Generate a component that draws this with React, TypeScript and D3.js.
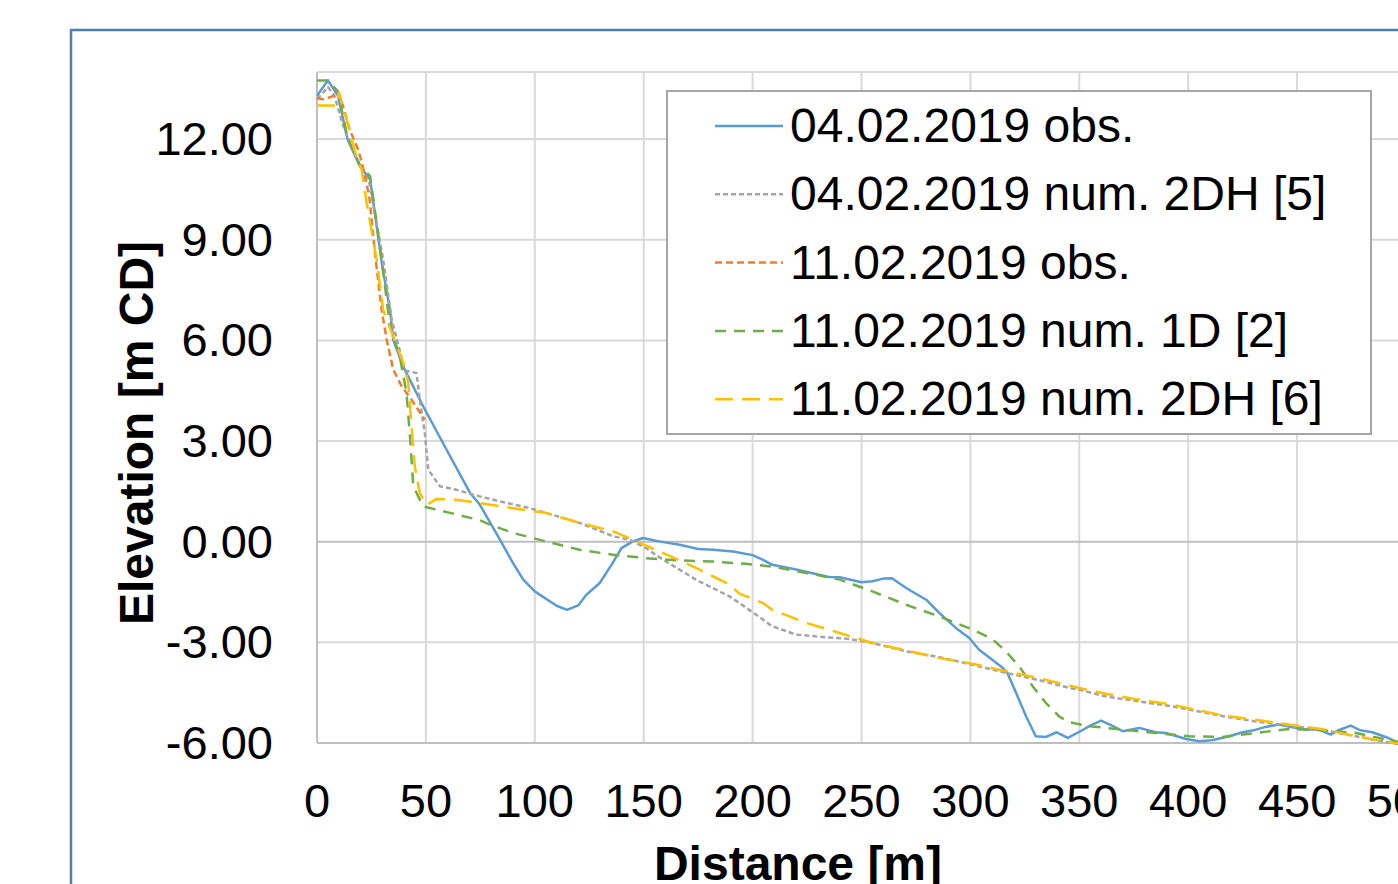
import React from 'react'
import * as d3 from 'd3'

// distance [m], elevation [m CD]
const obs0402: [number, number][] = [
  [0, 13.29], [5, 13.75], [9.6, 13.3], [14, 12.0], [19.6, 11.2], [24.4, 10.8], [30, 8.2],
  [33.5, 6.91], [35, 6.02], [39.6, 5.22], [48.8, 4.03], [59.5, 2.74], [70.2, 1.46],
  [74.8, 1.1], [84, 0.06], [90, -0.64], [94.7, -1.13], [100, -1.48], [110, -1.91],
  [114.8, -2.03], [119.9, -1.9], [123.7, -1.58], [129.8, -1.23], [135.2, -0.69],
  [139.8, -0.19], [145, 0.01], [149.7, 0.11], [157, 0.01], [166.5, -0.09], [175, -0.22],
  [181.8, -0.24], [191, -0.29], [200, -0.4], [204.8, -0.54], [209, -0.69], [220, -0.83],
  [235, -1.05], [240, -1.06], [250, -1.21], [255, -1.18], [260, -1.1], [264, -1.09],
  [270.5, -1.38], [279.7, -1.73], [285.8, -2.13], [294.2, -2.62], [299.5, -2.87],
  [304, -3.22], [314.8, -3.76], [317, -3.91], [321, -4.51], [325.6, -5.21], [330, -5.8],
  [334.7, -5.82], [339.6, -5.68], [344.7, -5.85], [350.5, -5.65], [355, -5.48],
  [360, -5.33], [365.5, -5.5], [370, -5.65], [377.5, -5.55], [385, -5.68], [389.8, -5.7],
  [399, -5.88], [405, -5.95], [411, -5.92], [418.8, -5.8], [425, -5.68], [429.5, -5.63],
  [435.6, -5.52], [441.7, -5.45], [447.8, -5.53], [454, -5.6], [460, -5.6], [465.4, -5.75],
  [469, -5.62], [474.6, -5.48], [479, -5.62], [484.5, -5.68], [490.7, -5.82],
  [495.2, -5.95], [500, -6.05],
]

const num2dh0402: [number, number][] = [
  [0, 13.2], [3, 13.4], [5, 13.55], [8, 13.3], [12, 12.4], [19, 11.3], [24, 10.7],
  [30.4, 8.4], [34.3, 6.62], [40.4, 5.1], [45.7, 5.03], [47.2, 4.23], [49.5, 3.24],
  [51.1, 2.15], [56.4, 1.65], [64, 1.55], [71.7, 1.4], [84, 1.2], [97.7, 1.0], [105, 0.86],
  [120.6, 0.56], [136, 0.16], [143.6, 0.06], [151, -0.19], [159, -0.54], [174, -1.13],
  [189.4, -1.63], [200, -2.1], [209, -2.52], [220, -2.77], [232, -2.84], [244.5, -2.9],
  [255, -3.02], [270.5, -3.27], [285.8, -3.44], [301, -3.67], [316.4, -3.91],
  [331.7, -4.13], [345.4, -4.36], [350, -4.41], [362, -4.61], [377.5, -4.76],
  [392.8, -4.91], [405, -5.06], [417, -5.21], [431, -5.36], [446, -5.48], [461, -5.6],
  [477, -5.8], [484.6, -5.9], [495, -6.02], [500, -6.06],
]

const obs1102: [number, number][] = [
  [0, 13.22], [3, 13.19], [7, 13.27], [10, 13.39], [12, 12.97], [15, 12.28], [19, 11.68],
  [21, 11.19], [24, 10.29], [26.6, 8.6], [29.7, 6.9], [32, 6.02], [35, 5.13],
  [38.9, 4.63], [43.4, 4.23], [49.5, 3.64],
]

const num1d1102: [number, number][] = [
  [0, 13.75], [5, 13.75], [9.6, 13.42], [14, 12.04], [19.6, 11.24], [24.4, 10.89],
  [29.7, 8.4], [33.5, 6.42], [38, 5.52], [41.1, 4.43], [42.7, 3.14], [44.2, 1.65],
  [48.8, 1.05], [61, 0.86], [74.8, 0.64], [79.4, 0.51], [90, 0.26], [105, 0.01],
  [120.6, -0.24], [136, -0.39], [151, -0.49], [166.5, -0.56], [181.8, -0.59],
  [197, -0.66], [209, -0.74], [224.6, -0.93], [240, -1.13], [255, -1.48], [270.5, -1.88],
  [285.8, -2.23], [301, -2.62], [310, -2.9], [316, -3.25], [322.5, -3.72], [328.6, -4.31],
  [334.7, -4.81], [340.8, -5.21], [345.4, -5.38], [354.6, -5.5], [370, -5.6], [385, -5.7],
  [400.5, -5.8], [415.7, -5.82], [431, -5.7], [446.3, -5.58], [461.6, -5.62], [477, -5.7],
  [495, -5.95], [500, -6.0],
]

const num2dh1102: [number, number][] = [
  [0, 13.0], [9, 13.0], [10, 13.39], [13.6, 12.58], [17.4, 11.63], [20.5, 11.09],
  [22.8, 10.1], [27.4, 8.4], [30.4, 6.9], [35, 6.12], [39.6, 5.33], [41.9, 4.73],
  [43.4, 3.44], [44.9, 2.24], [47.2, 1.45], [50.3, 1.1], [54.9, 1.27], [64.1, 1.25],
  [74.8, 1.15], [90, 1.0], [105, 0.86], [120.6, 0.56], [136, 0.31], [146.6, 0.01],
  [159, -0.34], [174, -0.78], [189.4, -1.28], [194, -1.55], [204.8, -1.83], [209, -2.03],
  [224.6, -2.42], [240, -2.72], [255, -3.02], [270.5, -3.24], [285.8, -3.47],
  [301, -3.64], [316.4, -3.86], [331.7, -4.07], [350, -4.36], [362, -4.53],
  [377.5, -4.71], [392.8, -4.86], [405, -5.03], [417, -5.19], [431, -5.31], [446, -5.45],
  [461, -5.58], [477, -5.8], [495, -6.0], [500, -6.04],
]

const xTicks = [0, 50, 100, 150, 200, 250, 300, 350, 400, 450, 500]
const yTicks = [-6, -3, 0, 3, 6, 9, 12]

const series = [
  { name: '04.02.2019 obs.', data: obs0402, color: '#5b9bd5', dash: '' },
  { name: '04.02.2019 num. 2DH [5]', data: num2dh0402, color: '#a5a5a5', dash: '5,3' },
  { name: '11.02.2019 obs.', data: obs1102, color: '#ed7d31', dash: '7,4' },
  { name: '11.02.2019 num. 1D [2]', data: num1d1102, color: '#70ad47', dash: '11,8' },
  { name: '11.02.2019 num. 2DH [6]', data: num2dh1102, color: '#ffc000', dash: '18,9' },
]

const font = '"Liberation Sans", Arial, sans-serif'

export default function App() {
  const x = d3.scaleLinear().domain([0, 500]).range([317, 1406])
  const y = d3.scaleLinear().domain([-6, 14]).range([743, 72])
  const line = d3.line<[number, number]>().x(d => x(d[0])).y(d => y(d[1]))

  const lx = 667, ly = 91
  const rowY = (i: number) => 126 + i * 68.3

  return (
    <div style={{ position: 'absolute', left: 0, top: 0 }}>
      <svg width={1398} height={884} style={{ display: 'block', background: '#fff' }}>
        <rect x={71} y={30} width={1400} height={900} fill="none" stroke="#4a7ebb" strokeWidth={2.5} />

        {/* grid */}
        {xTicks.filter(t => t > 0).map(t => (
          <line key={'gx' + t} x1={x(t)} x2={x(t)} y1={y(14)} y2={y(-6)} stroke="#d9d9d9" strokeWidth={2} />
        ))}
        {yTicks.concat([14]).filter(t => t !== 0 && t !== -6).map(t => (
          <line key={'gy' + t} x1={x(0)} x2={x(500)} y1={y(t)} y2={y(t)} stroke="#d9d9d9" strokeWidth={2} />
        ))}
        <line x1={x(0)} x2={x(500)} y1={y(0)} y2={y(0)} stroke="#bfbfbf" strokeWidth={2} />
        <line x1={x(0)} x2={x(500)} y1={y(-6)} y2={y(-6)} stroke="#bfbfbf" strokeWidth={2} />
        <line x1={x(0)} x2={x(0)} y1={y(14)} y2={y(-6)} stroke="#bfbfbf" strokeWidth={2} />

        {/* series */}
        {series.map(s => (
          <path key={s.name} d={line(s.data) || ''} fill="none" stroke={s.color}
            strokeWidth={2.5} strokeDasharray={s.dash || undefined} strokeLinejoin="round" />
        ))}

        {/* ticks */}
        {yTicks.map(t => (
          <text key={'ty' + t} x={273} y={y(t) + 16} textAnchor="end" fontFamily={font} fontSize={47} fill="#000">
            {t.toFixed(2)}
          </text>
        ))}
        {xTicks.map(t => (
          <text key={'tx' + t} x={x(t)} y={817} textAnchor="middle" fontFamily={font} fontSize={47} fill="#000">
            {t}
          </text>
        ))}

        <text x={798} y={880} textAnchor="middle" fontFamily={font} fontSize={48} fontWeight="bold">
          Distance [m]
        </text>
        <text transform="translate(153,433) rotate(-90)" textAnchor="middle" fontFamily={font} fontSize={48} fontWeight="bold">
          Elevation [m CD]
        </text>

        {/* legend */}
        <rect x={lx} y={ly} width={704} height={343} fill="#fff" stroke="#a6a6a6" strokeWidth={2} />
        {series.map((s, i) => (
          <g key={'lg' + i}>
            <line x1={715} x2={783} y1={rowY(i)} y2={rowY(i)} stroke={s.color} strokeWidth={2.5}
              strokeDasharray={s.dash || undefined} />
            <text x={790} y={rowY(i) + 16} fontFamily={font} fontSize={48} fill="#000">{s.name}</text>
          </g>
        ))}
      </svg>
    </div>
  )
}
